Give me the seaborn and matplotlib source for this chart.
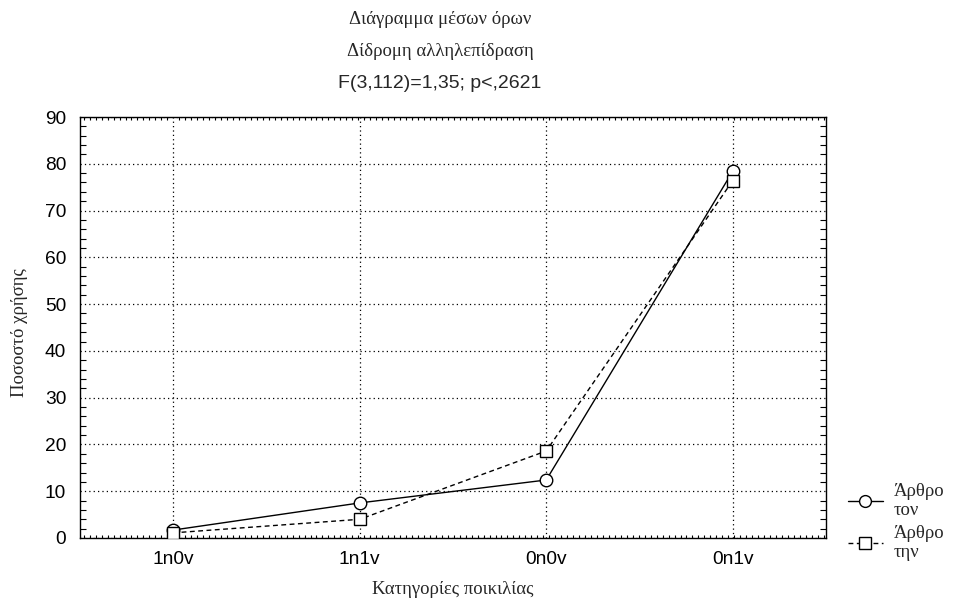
import matplotlib
matplotlib.use("Agg")
import matplotlib.pyplot as plt
from matplotlib.ticker import MultipleLocator, AutoMinorLocator
import seaborn as sns
import pandas as pd

# Mean percentages per variety category, for each article form
categories = ["1n0v", "1n1v", "0n0v", "0n1v"]
series_names = ["Άρθρο τον", "Άρθρο την"]
legend_labels = ["Άρθρο\nτον", "Άρθρο\nτην"]
values_ton = [1.7, 7.5, 12.4, 78.4]
values_tin = [1.1, 4.0, 18.6, 76.4]

title_lines = ["Διάγραμμα μέσων όρων", "Δίδρομη αλληλεπίδραση"]
stat_line = "F(3,112)=1,35; p<,2621"
x_label = "Κατηγορίες ποικιλίας"
y_label = "Ποσοστό χρήσης"
y_ticks = [0, 10, 20, 30, 40, 50, 60, 70, 80, 90]

df = pd.DataFrame({
    "cat": categories * 2,
    "val": values_ton + values_tin,
    "series": [series_names[0]] * 4 + [series_names[1]] * 4,
})
df["x"] = [categories.index(c) for c in df["cat"]]

sns.set_theme(style="white")
plt.rcParams["font.family"] = ["Liberation Sans", "DejaVu Sans"]
serif = ["Liberation Serif", "DejaVu Serif"]

W, H = 955, 602
fig = plt.figure(figsize=(W / 100, H / 100), dpi=100)
ax = fig.add_axes([80 / W, 1 - 538 / H, 746 / W, 421 / H])

sns.lineplot(
    data=df, x="x", y="val", style="series", sort=False,
    markers={series_names[0]: "o", series_names[1]: "s"},
    dashes={series_names[0]: "", series_names[1]: (3.5, 2.5)},
    color="black", markersize=9, markerfacecolor="white",
    markeredgecolor="black", mew=1.0, linewidth=1.0,
    legend=False, ax=ax, zorder=3,
)

ax.set_xlim(-0.5, 3.5)
ax.set_ylim(0, 90)
ax.set_xticks(range(len(categories)))
ax.set_xticklabels(categories)
ax.set_yticks(y_ticks)
ax.yaxis.set_minor_locator(AutoMinorLocator(5))
ax.xaxis.set_minor_locator(MultipleLocator(0.032))
ax.tick_params(axis="both", which="major", labelsize=13.8, colors="black",
               direction="in", length=0)
ax.tick_params(axis="x", which="major", pad=9)
ax.tick_params(axis="y", which="major", pad=10)
ax.tick_params(axis="y", which="minor", direction="in", length=4, width=0.8,
               left=True, right=True, color="black")
ax.tick_params(axis="x", which="minor", direction="in", length=2, width=0.8,
               bottom=True, top=True, color="black")
ax.grid(True, which="major", linestyle=(0, (1, 2.5)), color="black", linewidth=0.9)
ax.set_axisbelow(True)
for s in ax.spines.values():
    s.set_color("black")
    s.set_linewidth(1.0)

ax.set_xlabel("")
ax.set_ylabel("")
fig.text(453 / W, 1 - 590 / H, x_label, family=serif, fontsize=13.5,
         ha="center", va="center")
fig.text(20 / W, 1 - 333 / H, y_label, family=serif, fontsize=13.5,
         ha="center", va="center", rotation=90)

cx = 440 / W
fig.text(cx, 1 - 20 / H, title_lines[0], family=serif,
         fontsize=13.5, ha="center", va="center")
fig.text(cx, 1 - 52 / H, title_lines[1], family=serif,
         fontsize=13.5, ha="center", va="center")
fig.text(cx, 1 - 84 / H, stat_line, fontsize=14,
         ha="center", va="center")

handles = ax.lines[:2]
leg = fig.legend(handles, legend_labels,
                 loc="upper left", bbox_to_anchor=(840 / W, 1 - 475 / H),
                 frameon=False, handlelength=1.9, handletextpad=0.55,
                 labelspacing=0.3, prop={"family": serif, "size": 13.5},
                 numpoints=1, borderaxespad=0)
for lh in leg.legend_handles:
    lh.set_markersize(8.5)

fig.savefig("out.png", dpi=100)
